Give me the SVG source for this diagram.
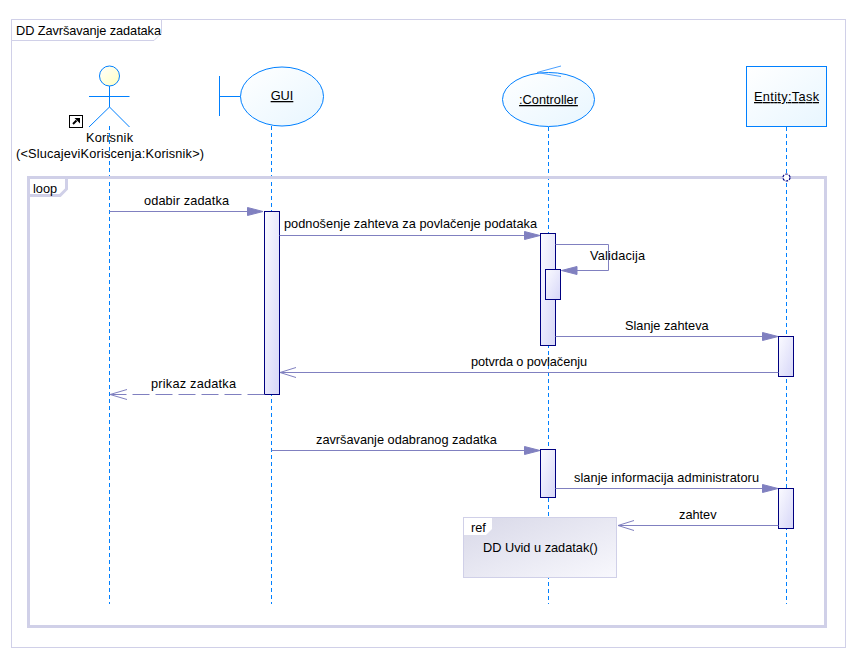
<svg xmlns="http://www.w3.org/2000/svg" width="857" height="661" viewBox="0 0 857 661">
<style>
text{font-family:"Liberation Sans",Arial,sans-serif;font-size:12.75px;fill:#000}
.c{text-anchor:middle}
.u{text-decoration:underline}
.ll{stroke:#0080ff;stroke-width:1;stroke-dasharray:4 3;fill:none}
.sh{stroke:#0080ff;stroke-width:1;fill:none}
.hd{stroke:#0080ff;stroke-width:1;fill:url(#hf)}
.node{stroke:#0080ff;stroke-width:1;fill:url(#nf)}
.act{stroke:#000080;stroke-width:1;fill:url(#af)}
.m{stroke:#8080c0;stroke-width:1;fill:none}
.h{fill:#8080c0;stroke:#8080c0;stroke-width:1}
.o{stroke:#8080c0;stroke-width:1;fill:none}
.fr{stroke:#d0d0e8;stroke-width:1;fill:#fff}
.lp{stroke:#d0d0e8;stroke-width:3;fill:none}
</style>
<defs>
<linearGradient id="nf" x1="0" y1="0" x2="1" y2="1"><stop offset="0" stop-color="#fff"/><stop offset="1" stop-color="#e8f6ff"/></linearGradient>
<linearGradient id="af" x1="0" y1="0" x2="1" y2="1"><stop offset="0" stop-color="#fbfbff"/><stop offset="1" stop-color="#d6d6f8"/></linearGradient>
<linearGradient id="rf" x1="0" y1="0" x2="1" y2="1"><stop offset="0" stop-color="#d8d8e8"/><stop offset="1" stop-color="#f8f8fd"/></linearGradient>
<linearGradient id="hf" x1="0" y1="0" x2="1" y2="1"><stop offset="0" stop-color="#fff"/><stop offset="1" stop-color="#ffffc0"/></linearGradient>
</defs>
<rect width="857" height="661" fill="#fff"/>
<g id="frame">
<rect class="fr" x="11.5" y="19.5" width="834" height="628"/>
<path class="fr" d="M11.5 19.5H161.5V33L154 40.5H11.5Z"/>
<text x="16" y="35" textLength="145">DD Završavanje zadataka</text>
</g>
<g id="lifelines">
<path class="ll" d="M109.5 126V604"/>
<path class="ll" d="M271.5 126V604"/>
<path class="ll" d="M548.5 127V604"/>
<path class="ll" d="M786.5 127V604"/>
</g>
<g id="loop">
<rect class="lp" x="28.5" y="177.5" width="797" height="449"/>
<path class="lp" d="M28.5 195.5H60L66.5 189V177.5"/>
<text x="33" y="193">loop</text>
<circle cx="786.5" cy="177.5" r="3.5" fill="#fff" stroke="#000080" stroke-width="1.2" stroke-dasharray="2.5 1.2"/>
</g>
<g id="actor-korisnik">
<circle class="hd" cx="109.5" cy="76" r="10"/>
<path class="sh" d="M109.5 86V107M89 96.5H129.5M89 127L109.5 107L129.5 127"/>
<rect x="69.5" y="115.5" width="13" height="12" fill="#fff" stroke="#000" stroke-width="1"/>
<path d="M73 124L76.5 120.5" stroke="#000" stroke-width="2" fill="none"/>
<path d="M74.5 118H80V123.5Z" fill="#000"/>
<text x="86" y="142" textLength="47">Korisnik</text>
<text x="16" y="158" textLength="188">(&lt;SlucajeviKoriscenja:Korisnik&gt;)</text>
</g>
<g id="boundary-gui">
<path class="sh" d="M219.5 76V116M219.5 96.5H240.5"/>
<ellipse class="node" cx="282" cy="96.5" rx="41.5" ry="29.5"/>
<text class="c u" x="282" y="100">GUI</text>
</g>
<g id="control-controller">
<ellipse class="node" cx="548.5" cy="99.5" rx="46" ry="27"/>
<path d="M561 66L537 72.5L561 76.5" fill="none" stroke="#4aa0ff" stroke-width="1"/>
<text class="c u" x="548.5" y="104">:Controller</text>
</g>
<g id="entity-task">
<rect class="node" x="746.5" y="66.5" width="80" height="60"/>
<text class="u" x="754" y="101" textLength="65">Entity:Task</text>
</g>
<g id="activations">
<rect class="act" x="264.5" y="211.5" width="15" height="183"/>
<rect class="act" x="540.5" y="233.5" width="15" height="112"/>
<rect class="act" x="545.5" y="269.5" width="15" height="30"/>
<rect class="act" x="778.5" y="336.5" width="15" height="40"/>
<rect class="act" x="540.5" y="449.5" width="15" height="48"/>
<rect class="act" x="778.5" y="488.5" width="15" height="40"/>
</g>
<g id="ref-uvid">
<rect x="463.5" y="517.5" width="153" height="60" fill="url(#rf)" stroke="#d0d0e8" stroke-width="1"/>
<path d="M464 518H492V529L486 535H464Z" fill="#fff"/>
<text x="471" y="532">ref</text>
<text x="483" y="552">DD Uvid u zadatak()</text>
</g>
<g id="connectors">
<path class="m" d="M109.5 211.5H248"/><path class="h" d="M247.5 207.5L263 211.5L247.5 215.5Z"/>
<path class="m" d="M279.5 235.5H525"/><path class="h" d="M524.5 231.5L540 235.5L524.5 239.5Z"/>
<path class="m" d="M555.5 244.5H608.5V270.5H575"/><path class="h" d="M577 266.5L561.5 270.5L577 274.5Z"/>
<path class="m" d="M555.5 336.5H763"/><path class="h" d="M762.5 332.5L778 336.5L762.5 340.5Z"/>
<path class="m" d="M778.5 372.5H280"/><path class="o" d="M296 367.5L280 372.5L296 377.5"/>
<path class="m" d="M264.5 394.5H110" stroke-dasharray="17 6"/><path class="o" d="M127 389.5L110 394.5L127 399.5"/>
<path class="m" d="M271.5 450.5H525"/><path class="h" d="M524.5 446.5L540 450.5L524.5 454.5Z"/>
<path class="m" d="M555.5 488.5H763"/><path class="h" d="M762.5 484.5L778 488.5L762.5 492.5Z"/>
<path class="m" d="M778.5 525.5H618"/><path class="o" d="M634 520.5L618 525.5L634 530.5"/>
</g>
<g id="labels">
<text x="144" y="205" textLength="85">odabir zadatka</text>
<text x="284" y="228" textLength="253">podnošenje zahteva za povlačenje podataka</text>
<text x="590" y="260" textLength="55">Validacija</text>
<text x="625" y="330">Slanje zahteva</text>
<text x="471" y="366" textLength="116">potvrda o povlačenju</text>
<text x="151" y="388" textLength="85">prikaz zadatka</text>
<text x="316" y="444">završavanje odabranog zadatka</text>
<text x="574" y="482" textLength="185">slanje informacija administratoru</text>
<text x="679" y="519">zahtev</text>
</g>
</svg>
